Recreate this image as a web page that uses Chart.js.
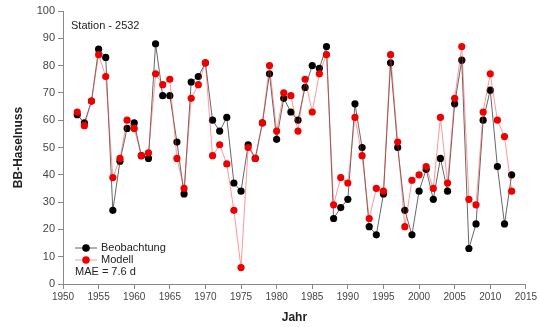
<!DOCTYPE html>
<html>
<head>
<meta charset="utf-8">
<script src="https://cdn.jsdelivr.net/npm/chart.js@4/dist/chart.umd.min.js"></script>
<style>
  body { margin: 0; background: #fff; }
  #wrap { width: 539px; height: 327px; }
</style>
</head>
<body>
<div id="wrap"><canvas id="bbChart" width="539" height="327"></canvas></div>
<script>
// ---------- Data ----------

const years = [
    1952, 1953, 1954, 1955, 1956, 1957, 1958, 1959, 1960, 1961,
    1962, 1963, 1964, 1965, 1966, 1967, 1968, 1969, 1970, 1971,
    1972, 1973, 1974, 1975, 1976, 1977, 1978, 1979, 1980, 1981,
    1982, 1983, 1984, 1985, 1986, 1987, 1988, 1989, 1990, 1991,
    1992, 1993, 1994, 1995, 1996, 1997, 1998, 1999, 2000, 2001,
    2002, 2003, 2004, 2005, 2006, 2007, 2008, 2009, 2010, 2011,
    2012, 2013
];

const beobachtung = [
    62, 59, 67, 86, 83, 27, 45, 57, 59, 47,
    46, 88, 69, 69, 52, 33, 74, 76, 81, 60,
    56, 61, 37, 34, 51, 46, 59, 77, 53, 68,
    63, 60, 72, 80, 79, 87, 24, 28, 31, 66,
    50, 21, 18, 33, 81, 50, 27, 18, 34, 42,
    31, 46, 34, 66, 82, 13, 22, 60, 71, 43,
    22, 40
];

const modell = [
    63, 58, 67, 84, 76, 39, 46, 60, 57, 47,
    48, 77, 73, 75, 46, 35, 68, 73, 81, 47,
    51, 44, 27, 6, 50, 46, 59, 80, 56, 70,
    69, 56, 75, 63, 77, 84, 29, 39, 37, 61,
    47, 24, 35, 34, 84, 52, 21, 38, 40, 43,
    35, 61, 37, 68, 87, 31, 29, 63, 77, 60,
    54, 34
];

const stationText = "Station - 2532";
const maeText = "MAE = 7.6 d";

const toPoints = arr => arr.map((v, i) => ({ x: years[i], y: v }));

// ---------- Overlay: station label + legend ----------

const overlay = {
    id: "overlay",
    afterDatasetsDraw(chart) {
        const c = chart.ctx;
        const area = chart.chartArea;
        c.save();
        c.font = "11px 'Liberation Sans', Arial, sans-serif";
        c.fillStyle = "#222";
        c.textBaseline = "middle";
        c.textAlign = "left";
        c.fillText(stationText, area.left + 8, 26);

        let y = 248;
        chart.data.datasets.forEach(ds => {
            c.strokeStyle = ds.borderColor;
            c.lineWidth = 1;
            c.beginPath();
            c.moveTo(area.left + 12, y);
            c.lineTo(area.left + 34, y);
            c.stroke();
            c.fillStyle = ds.pointBackgroundColor;
            c.beginPath();
            c.arc(area.left + 23, y, 3.8, 0, Math.PI * 2);
            c.fill();
            c.fillStyle = "#222";
            c.fillText(ds.label, area.left + 38, y);
            y += 12;
        });
        c.fillText(maeText, area.left + 12, y);
        c.restore();
    }
};

// ---------- Chart ----------

new Chart(document.getElementById("bbChart"), {
    type: "line",
    data: {
        datasets: [{
            label: "Beobachtung",
            data: toPoints(beobachtung),
            borderColor: "rgba(0,0,0,0.6)",
            borderWidth: 1,
            pointBackgroundColor: "#000000",
            pointBorderWidth: 0,
            pointRadius: 3.6,
            tension: 0,
            order: 2
        }, {
            label: "Modell",
            data: toPoints(modell),
            borderColor: "rgba(255,50,50,0.5)",
            borderWidth: 1,
            pointBackgroundColor: "#ee0000",
            pointBorderWidth: 0,
            pointRadius: 3.6,
            tension: 0,
            order: 1
        }]
    },
    options: {
        responsive: false,
        animation: false,
        layout: {
            padding: { top: 11, right: 12, left: 0, bottom: 0 }
        },
        plugins: {
            legend: { display: false },
            tooltip: { enabled: false }
        },
        scales: {
            x: {
                type: "linear",
                min: 1950,
                max: 2015,
                afterFit: s => { s.height = 43; },
                ticks: {
                    stepSize: 5,
                    color: "#444",
                    padding: 2,
                    font: { family: "'Liberation Sans', Arial, sans-serif", size: 10 },
                    callback: v => String(v)
                },
                grid: {
                    drawOnChartArea: false,
                    drawTicks: true,
                    tickLength: 5,
                    color: "#888"
                },
                border: { color: "#888" },
                title: {
                    display: true,
                    text: "Jahr",
                    color: "#222",
                    padding: { top: 0, bottom: 2 },
                    font: { family: "'Liberation Sans', Arial, sans-serif", size: 12, weight: "bold" }
                }
            },
            y: {
                min: 0,
                max: 100,
                afterFit: s => { s.width = 63; },
                ticks: {
                    stepSize: 10,
                    color: "#444",
                    padding: 3,
                    font: { family: "'Liberation Sans', Arial, sans-serif", size: 11 }
                },
                grid: {
                    drawOnChartArea: false,
                    drawTicks: true,
                    tickLength: 5,
                    color: "#888"
                },
                border: { color: "#888" },
                title: {
                    display: true,
                    text: "BB-Haselnuss",
                    color: "#222",
                    padding: { top: 11, bottom: 0 },
                    font: { family: "'Liberation Sans', Arial, sans-serif", size: 12, weight: "bold" }
                }
            }
        }
    },
    plugins: [overlay]
});
</script>
</body>
</html>
